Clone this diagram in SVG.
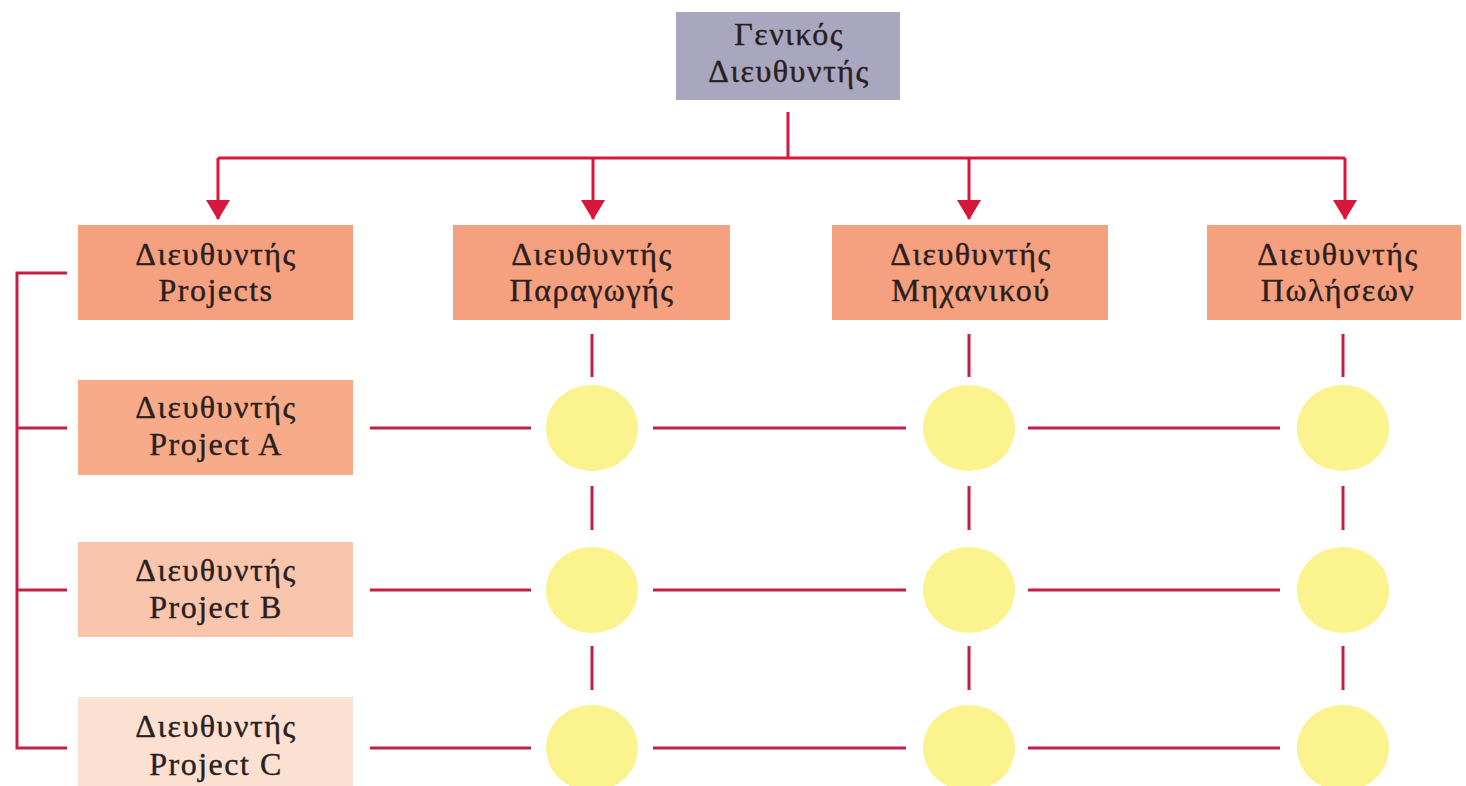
<svg xmlns="http://www.w3.org/2000/svg" width="1466" height="786" viewBox="0 0 1466 786">
<style>
text{font-family:"Liberation Serif","DejaVu Serif",serif;font-size:32px;letter-spacing:1.5px;fill:#2a1f1f;stroke:#2a1f1f;stroke-width:0.4px;text-anchor:middle}
.arr{stroke:#d8173c;stroke-width:3;fill:none}
.grid{stroke:#c42046;stroke-width:3;fill:none}
.dot{fill:#fbf38e}
.l2{fill:#f5a07e}
</style>
<defs>
<marker id="ah" viewBox="0 0 20 24" refX="19" refY="12" markerWidth="20" markerHeight="24" markerUnits="userSpaceOnUse" orient="auto">
<path d="M0,0 L20,12 L0,24 Z" fill="#d8173c"/>
</marker>
</defs>
<rect width="1466" height="786" fill="#ffffff"/>
<g id="connectors">
<path class="arr" d="M788,112 V158"/>
<path class="arr" d="M218,158 H1345"/>
<path class="arr" d="M218,158 V219" marker-end="url(#ah)"/>
<path class="arr" d="M593,158 V219" marker-end="url(#ah)"/>
<path class="arr" d="M969,158 V219" marker-end="url(#ah)"/>
<path class="arr" d="M1345,158 V219" marker-end="url(#ah)"/>
<path class="grid" d="M67,273 H17 V748 H67 M17,428 H67 M17,590 H67"/>
<path class="grid" d="M370,428 H531 M653,428 H906 M1028,428 H1280"/>
<path class="grid" d="M370,590 H531 M653,590 H906 M1028,590 H1280"/>
<path class="grid" d="M370,748 H531 M653,748 H906 M1028,748 H1280"/>
<path class="grid" d="M592,334 V377 M592,486 V530 M592,646 V690"/>
<path class="grid" d="M969,334 V377 M969,486 V530 M969,646 V690"/>
<path class="grid" d="M1343,334 V377 M1343,486 V530 M1343,646 V690"/>
</g>
<g id="gm">
<rect x="676" y="12" width="224" height="88" fill="#a9a6bf"/>
<text x="789" y="45">Γενικός</text>
<text x="789" y="82">Διευθυντής</text>
</g>
<g id="projects">
<rect class="l2" x="78" y="225" width="275" height="95"/>
<text x="216" y="265">Διευθυντής</text>
<text x="216" y="301">Projects</text>
</g>
<g id="paragogis">
<rect class="l2" x="453" y="225" width="277" height="95"/>
<text x="592" y="265">Διευθυντής</text>
<text x="592" y="301">Παραγωγής</text>
</g>
<g id="mixanikou">
<rect class="l2" x="832" y="225" width="276" height="95"/>
<text x="971" y="265">Διευθυντής</text>
<text x="971" y="301">Μηχανικού</text>
</g>
<g id="poliseon">
<rect class="l2" x="1207" y="225" width="254" height="95"/>
<text x="1338" y="265">Διευθυντής</text>
<text x="1338" y="301">Πωλήσεων</text>
</g>
<g id="projectA">
<rect x="78" y="380" width="275" height="95" fill="#f7ab89"/>
<text x="216" y="418">Διευθυντής</text>
<text x="216" y="455">Project A</text>
</g>
<g id="projectB">
<rect x="78" y="542" width="275" height="95" fill="#f9c5ad"/>
<text x="216" y="581">Διευθυντής</text>
<text x="216" y="618">Project B</text>
</g>
<g id="projectC">
<rect x="78" y="697" width="275" height="95" fill="#fce0d2"/>
<text x="216" y="737">Διευθυντής</text>
<text x="216" y="775">Project C</text>
</g>
<g id="cells">
<ellipse class="dot" cx="592" cy="428" rx="46" ry="43"/>
<ellipse class="dot" cx="969" cy="428" rx="46" ry="43"/>
<ellipse class="dot" cx="1343" cy="428" rx="46" ry="43"/>
<ellipse class="dot" cx="592" cy="590" rx="46" ry="43"/>
<ellipse class="dot" cx="969" cy="590" rx="46" ry="43"/>
<ellipse class="dot" cx="1343" cy="590" rx="46" ry="43"/>
<ellipse class="dot" cx="592" cy="748" rx="46" ry="43"/>
<ellipse class="dot" cx="969" cy="748" rx="46" ry="43"/>
<ellipse class="dot" cx="1343" cy="748" rx="46" ry="43"/>
</g>
</svg>
